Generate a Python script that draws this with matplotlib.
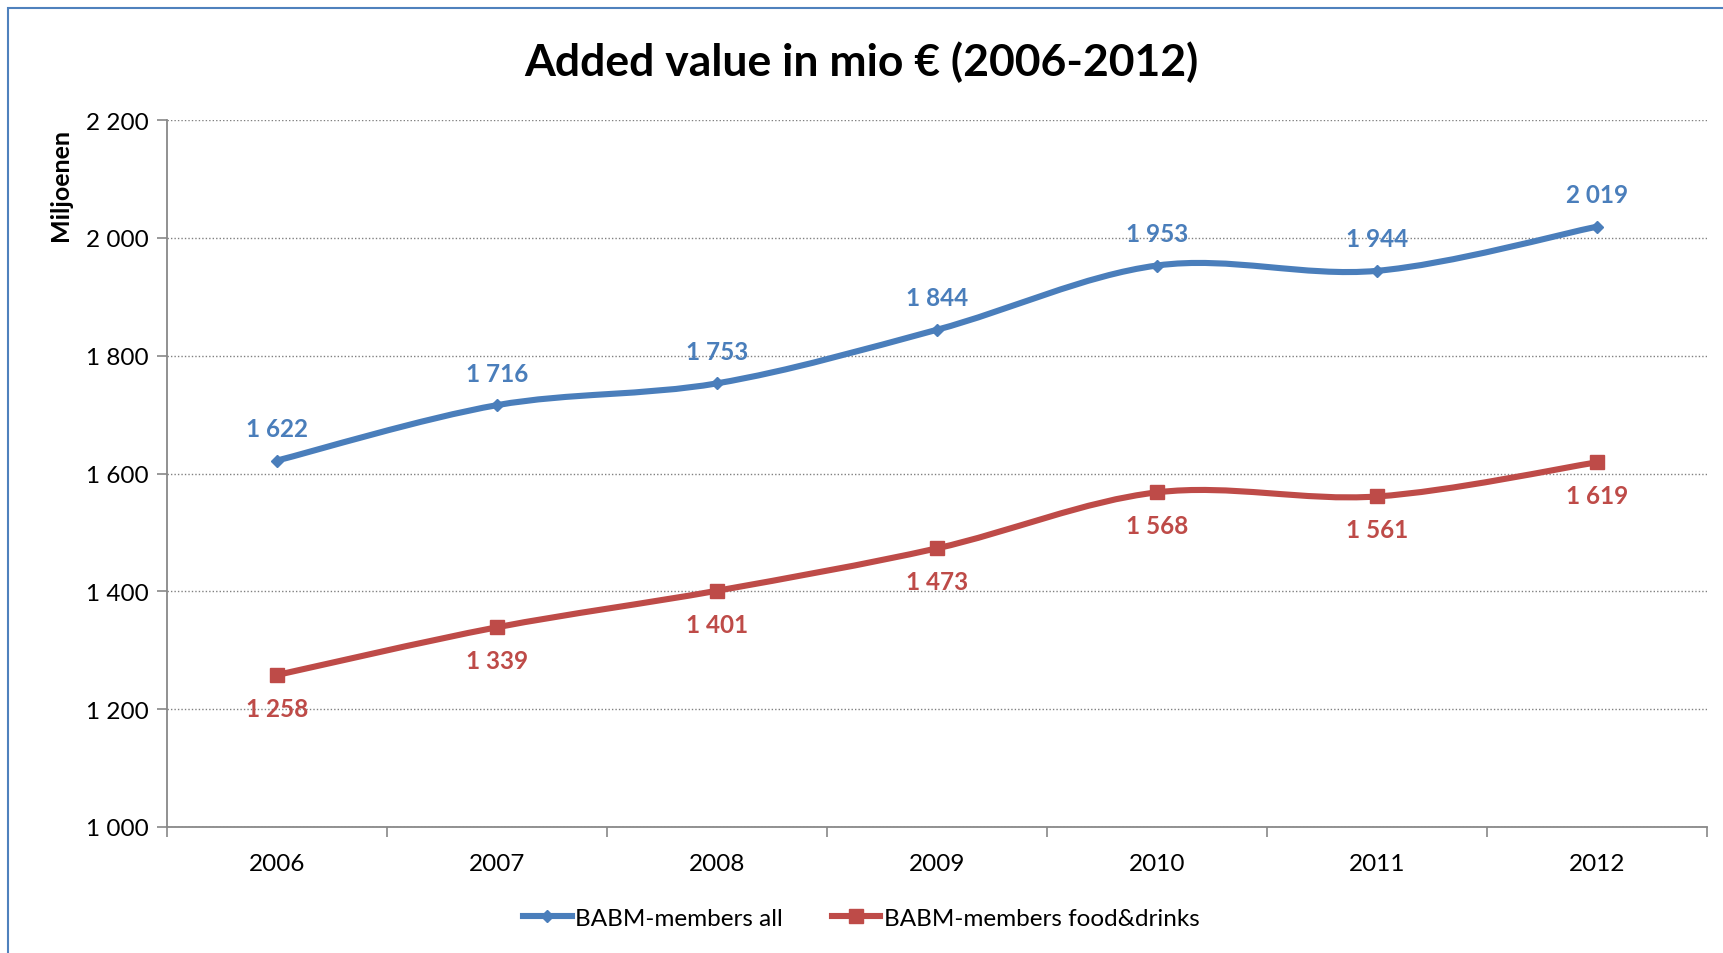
import numpy as np
import matplotlib.pyplot as plt
from matplotlib.path import Path
from matplotlib.patches import PathPatch, Rectangle
from matplotlib.lines import Line2D
from matplotlib.ticker import FuncFormatter

plt.rcParams['font.family'] = ['Lato', 'DejaVu Sans']

years = [2006, 2007, 2008, 2009, 2010, 2011, 2012]
babm_all = [1622, 1716, 1753, 1844, 1953, 1944, 2019]
babm_food = [1258, 1339, 1401, 1473, 1568, 1561, 1619]
series_names = ['BABM-members all', 'BABM-members food&drinks']

blue = '#4A7EBB'
red = '#BE4B48'


def smooth_path(x, y):
    # Excel-like smoothed line: cubic bezier through each point
    x = np.asarray(x, float)
    y = np.asarray(y, float)
    pts = np.column_stack([x, y])
    verts = [pts[0]]
    codes = [Path.MOVETO]
    n = len(pts)
    for i in range(n - 1):
        p0 = pts[i - 1] if i > 0 else pts[i]
        p1 = pts[i]
        p2 = pts[i + 1]
        p3 = pts[i + 2] if i + 2 < n else pts[i + 1]
        c1 = p1 + (p2 - p0) / 6
        c2 = p2 - (p3 - p1) / 6
        verts += [c1, c2, p2]
        codes += [Path.CURVE4] * 3
    return Path(verts, codes)


fig = plt.figure(figsize=(17.23, 9.54), dpi=100)
ax = fig.add_axes([167 / 1723, 1 - 828 / 954, (1707 - 167) / 1723, (828 - 121) / 954])

for vals, col, mk, ms, off in [(babm_all, blue, 'D', 6.5, 23), (babm_food, red, 's', 9.5, -24)]:
    ax.add_patch(PathPatch(smooth_path(years, vals), facecolor='none', edgecolor=col,
                           lw=4.4, capstyle='round', zorder=3))
    ax.plot(years, vals, ls='none', marker=mk, ms=ms, color=col, zorder=4)
    for x, v in zip(years, vals):
        ax.annotate(f'{v:,}'.replace(',', ' '), (x, v), xytext=(0, off), textcoords='offset points',
                    ha='center', va='center', fontsize=17.5, fontweight='bold', color=col)

ax.set_xlim(2005.5, 2012.5)
ax.set_ylim(1000, 2200)
ax.set_yticks(np.arange(1000, 2201, 200))
ax.yaxis.set_major_formatter(FuncFormatter(lambda v, p: f'{int(v):,}'.replace(',', ' ')))
ax.set_xticks(np.arange(2005.5, 2012.6, 1))
ax.set_xticklabels([])
ax.set_xticks(years, minor=True)
ax.set_xticklabels([str(y) for y in years], minor=True)
ax.tick_params(axis='x', which='minor', length=0, pad=19, labelsize=17.5)
ax.tick_params(axis='x', which='major', length=7, color='#888888', width=1.2)
ax.tick_params(axis='y', length=7, color='#888888', width=1.2, labelsize=17.5, pad=6)

ax.grid(axis='y', ls=(0, (1, 1.5)), color='#808080', lw=1)
ax.set_axisbelow(True)
for s in ['top', 'right']:
    ax.spines[s].set_visible(False)
for s in ['left', 'bottom']:
    ax.spines[s].set_color('#888888')
    ax.spines[s].set_linewidth(1.3)

ax.set_ylabel('Miljoenen', fontsize=18, fontweight='bold')
ax.yaxis.set_label_coords(-0.062, 0.91)
fig.text(0.5, 1 - 62 / 954, 'Added value in mio € (2006-2012)', ha='center', va='center',
         fontsize=32, fontweight='bold')

handles = [Line2D([], [], color=blue, lw=4.4, marker='D', ms=6.5),
           Line2D([], [], color=red, lw=4.4, marker='s', ms=9.5)]
fig.legend(handles, series_names, loc='center', bbox_to_anchor=(0.5, 1 - 919 / 954), ncol=2,
           frameon=False, fontsize=17.5, handlelength=2.0, handletextpad=0.15, columnspacing=2.0)

fig.patches.append(Rectangle((8 / 1723, -0.05), 1.1, 1 - 9 / 954 + 0.05, transform=fig.transFigure,
                             fill=False, edgecolor='#4F81BD', lw=1.5))

fig.savefig('out.png', dpi=100)
